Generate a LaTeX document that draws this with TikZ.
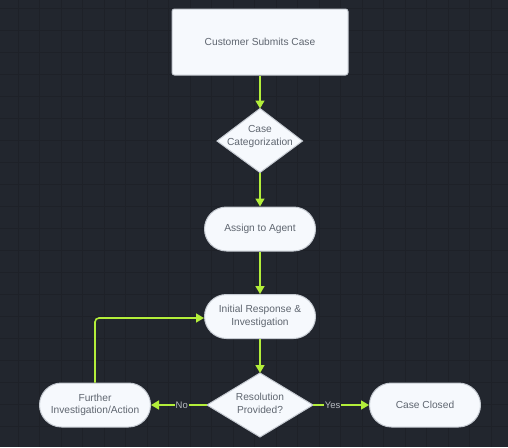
\documentclass[tikz,border=0pt]{standalone}
\usepackage{fontspec}
\setmainfont{Liberation Sans}
\usetikzlibrary{shapes.geometric,shapes.misc,arrows.meta}
\definecolor{bg}{HTML}{22262E}
\definecolor{gridc}{HTML}{1E2128}
\definecolor{nodefill}{HTML}{F6F9FD}
\definecolor{nodeborder}{HTML}{C5CAD1}
\definecolor{nodetext}{HTML}{5F6670}
\definecolor{lime}{HTML}{B3EE3A}
\definecolor{lbl}{HTML}{B8BCC2}
\tikzset{
  box/.style={draw=nodeborder, line width=1pt, fill=nodefill, text=nodetext, font=\fontsize{10.2}{12.5}\selectfont, align=center, inner sep=0pt},
  rectbox/.style={box, rectangle, rounded corners=2.5pt, minimum width=176pt, minimum height=66pt},
  pill/.style={box, rounded rectangle, minimum width=111pt, minimum height=44pt},
  dtext/.style={text=nodetext, font=\fontsize{10.2}{13}\selectfont, align=center},
  flow/.style={draw=lime, line width=1.6pt, -{Triangle[length=8pt,width=9pt]}},
  edgelabel/.style={text=lbl, font=\fontsize{9.5}{11}\selectfont, fill=bg, inner sep=1pt}
}
\begin{document}
\begin{tikzpicture}[x=1pt,y=-1pt]
\fill[bg] (0,0) rectangle (508,447);
\useasboundingbox (0,0) rectangle (508,447);
\foreach \i in {0,...,23} {
  \draw[gridc, line width=0.5pt] (\i*21.5-3.5,0) -- (\i*21.5-3.5,447);
}
\foreach \j in {0,...,21} {
  \draw[gridc, line width=0.5pt] (0,\j*22+8) -- (508,\j*22+8);
}
\node[rectbox] (submit) at (260,42) {Customer Submits Case};
\path[box] (217,141) -- (260,108.5) -- (302.5,141) -- (260,172.5) -- cycle;
\node[dtext] (cat) at (260,136) {Case\\Categorization};
\node[pill] (assign) at (260,229) {Assign to Agent};
\node[pill] (initial) at (260,316.5) {Initial Response \&\\Investigation};
\path[box] (207,405) -- (260,373) -- (313,405) -- (260,437) -- cycle;
\node[dtext] (res) at (260,403) {Resolution\\Provided?};
\node[pill] (further) at (95,405) {Further\\Investigation/Action};
\node[pill] (closed) at (425,405) {Case Closed};
\coordinate (catT) at (260,108.5);
\coordinate (catB) at (260,172.5);
\coordinate (resT) at (260,373);
\coordinate (resL) at (207,405);
\coordinate (resR) at (313,405);
\coordinate (loopc) at (95,318);
\draw[flow] (submit.south) -- (catT);
\draw[flow] (catB) -- (assign.north);
\draw[flow] (assign.south) -- (initial.north);
\draw[flow] (initial.south) -- (resT);
\draw[flow] (resL) -- node[edgelabel, pos=0.45] {No} (further.east);
\draw[flow] (resR) -- node[edgelabel, pos=0.35] {Yes} (closed.west);
\draw[flow, rounded corners=4pt] (further.north) -- (loopc) -- (initial.west |- loopc);
\end{tikzpicture}
\end{document}
